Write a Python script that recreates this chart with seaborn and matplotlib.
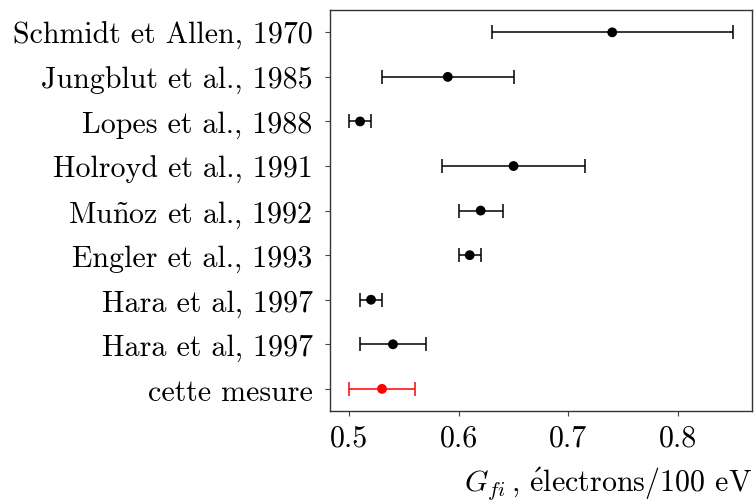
import numpy as np
import pandas as pd
import matplotlib
matplotlib.use("Agg")
import matplotlib.pyplot as plt
import seaborn as sns

studies = ["Schmidt et Allen, 1970", "Jungblut et al., 1985", "Lopes et al., 1988",
           "Holroyd et al., 1991", r"Mu$\tilde{\mathrm{n}}$oz et al., 1992",
           "Engler et al., 1993", "Hara et al, 1997", "Hara et al, 1997", "cette mesure"]
gfi = [0.74, 0.59, 0.51, 0.65, 0.62, 0.61, 0.52, 0.54, 0.53]
err = [0.11, 0.06, 0.01, 0.065, 0.02, 0.01, 0.01, 0.03, 0.03]
source = ["lit"] * 8 + ["this"]
xticks = [0.5, 0.6, 0.7, 0.8]

sns.set_theme(style="white")
plt.rcParams["font.family"] = ["cmr10", "DejaVu Serif"]
plt.rcParams["mathtext.fontset"] = "cm"
plt.rcParams["axes.formatter.use_mathtext"] = True
plt.rcParams["text.color"] = "black"
plt.rcParams["axes.labelcolor"] = "black"
plt.rcParams["xtick.color"] = "black"
plt.rcParams["ytick.color"] = "black"
FS = 21.6
plt.rcParams["font.size"] = FS

df = pd.DataFrame(dict(pos=np.arange(len(studies)), gfi=gfi, err=err, source=source))
palette = {"lit": "black", "this": "red"}

fig, ax = plt.subplots(figsize=(7.55, 5.02), dpi=100)
fig.subplots_adjust(left=0.437, right=0.996, top=0.978, bottom=0.179)

for src, sub in df.groupby("source"):
    ax.errorbar(sub["gfi"], sub["pos"], xerr=sub["err"], fmt="none",
                ecolor=palette[src], elinewidth=1.1, capsize=5, capthick=1.1, zorder=2)
sns.scatterplot(data=df, x="gfi", y="pos", hue="source", palette=palette, s=50,
                edgecolor="none", legend=False, ax=ax, zorder=3)

ax.set_yticks(range(len(studies)))
ax.set_yticklabels(studies, fontsize=FS)
ax.set_ylim(len(studies) - 0.5, -0.5)
ax.set_xticks(xticks)
ax.set_xticklabels([f"{v:.1f}" for v in xticks], fontsize=FS)
ax.set_xlim(0.4825, 0.8675)
ax.set_ylabel("")
ax.set_xlabel(r"$G_{fi}\,$, $\acute{\mathrm{e}}$lectrons/100 eV", fontsize=FS, loc="right", labelpad=9)

for s in ax.spines.values():
    s.set_color("#333333")
    s.set_linewidth(1.0)
ax.tick_params(axis="both", which="major", length=3.5, width=0.8, color="#444444", direction="out")
ax.tick_params(axis="y", pad=9, left=True)
ax.tick_params(axis="x", pad=6, bottom=True)

fig.savefig("out.png", dpi=100)
